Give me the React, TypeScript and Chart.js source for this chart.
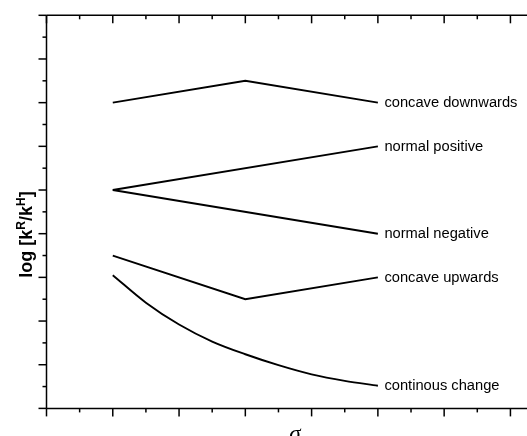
import React, { useEffect, useRef } from "react";
import { Chart, registerables } from "chart.js";

Chart.register(...registerables);

// ---- data ----
const xKnots = [1, 3, 5];
const xEnds = [1, 5];
const concaveDown = [7, 7.5, 7];
const normalPos = [5, 6];
const normalNeg = [5, 4];
const concaveUp = [3.5, 2.5, 3];
const xCurve = [1, 1.5, 2, 2.5, 3, 3.5, 4, 4.5, 5];
const continuous = [3.05, 2.42, 1.92, 1.53, 1.24, 0.99, 0.78, 0.63, 0.52];
const seriesLabels = [
  "concave downwards",
  "normal positive",
  "normal negative",
  "concave upwards",
  "continous change",
];
const xRange = [0, 7.25];
const yRange = [0, 9];
const tickStep = 0.5;
const xTitle = "σ";
const yTitleParts = [
  { t: "log [k", sup: false },
  { t: "R", sup: true },
  { t: "/k", sup: false },
  { t: "H", sup: true },
  { t: "]", sup: false },
];

const zip = (xs: number[], ys: number[]) => xs.map((x, i) => ({ x, y: ys[i] }));

const framePlugin = {
  id: "frame",
  afterDraw(chart: any) {
    const ctx = chart.ctx as CanvasRenderingContext2D;
    const { left, right, top, bottom } = chart.chartArea;
    const xs = chart.scales.x;
    const ys = chart.scales.y;
    ctx.save();
    ctx.strokeStyle = "#000";
    ctx.fillStyle = "#000";
    ctx.lineWidth = 1.5;
    ctx.lineCap = "butt";
    const line = (a: number, b: number, c: number, d: number) => {
      ctx.beginPath();
      ctx.moveTo(a, b);
      ctx.lineTo(c, d);
      ctx.stroke();
    };
    line(left, top, right, top);
    line(left, bottom, right, bottom);
    line(left, top, left, bottom);
    // x ticks
    for (let v = xs.min; v <= xs.max + 1e-9; v += tickStep) {
      const px = xs.getPixelForValue(v);
      const major = Math.abs(v - Math.round(v)) < 1e-6;
      const len = major ? 8 : 4;
      line(px, bottom, px, bottom + len);
      line(px, top, px, top + len);
    }
    // y ticks
    for (let v = ys.min; v <= ys.max + 1e-9; v += tickStep) {
      const py = ys.getPixelForValue(v);
      const major = Math.abs(v - Math.round(v)) < 1e-6;
      const len = major ? 8 : 4;
      line(left - len, py, left, py);
    }
    // series labels
    ctx.font = "14.7px 'Liberation Sans', Arial, sans-serif";
    ctx.textBaseline = "middle";
    ctx.textAlign = "left";
    chart.data.datasets.forEach((ds: any, i: number) => {
      const meta = chart.getDatasetMeta(i);
      const pt = meta.data[meta.data.length - 1];
      ctx.fillText(seriesLabels[i], pt.x + 6.5, pt.y + 0.5);
    });
    // x title
    ctx.font = "italic 23px 'Liberation Serif', serif";
    ctx.textAlign = "center";
    ctx.textBaseline = "alphabetic";
    ctx.fillText(xTitle, 295, 441);
    // y title (rotated, with superscripts)
    const mainFont = "bold 18px 'Liberation Sans', Arial, sans-serif";
    const supFont = "bold 12px 'Liberation Sans', Arial, sans-serif";
    let total = 0;
    const widths = yTitleParts.map((p) => {
      ctx.font = p.sup ? supFont : mainFont;
      const w = ctx.measureText(p.t).width;
      total += w;
      return w;
    });
    ctx.translate(31.5, 234.5);
    ctx.rotate(-Math.PI / 2);
    ctx.textAlign = "left";
    let cx = -total / 2;
    yTitleParts.forEach((p, i) => {
      ctx.font = p.sup ? supFont : mainFont;
      ctx.fillText(p.t, cx, p.sup ? -7 : 0);
      cx += widths[i];
    });
    ctx.restore();
  },
};

export default function App() {
  const ref = useRef<HTMLCanvasElement | null>(null);
  useEffect(() => {
    if (!ref.current) return;
    const common = {
      borderColor: "#000",
      borderWidth: 1.9,
      pointRadius: 0,
      showLine: true,
      fill: false,
    };
    const chart = new Chart(ref.current, {
      type: "scatter",
      data: {
        datasets: [
          { ...common, data: zip(xKnots, concaveDown), tension: 0 },
          { ...common, data: zip(xEnds, normalPos), tension: 0 },
          { ...common, data: zip(xEnds, normalNeg), tension: 0 },
          { ...common, data: zip(xKnots, concaveUp), tension: 0 },
          {
            ...common,
            data: zip(xCurve, continuous),
            tension: 0.4,
            cubicInterpolationMode: "monotone",
          },
        ] as any,
      },
      options: {
        animation: false,
        responsive: true,
        maintainAspectRatio: false,
        layout: { padding: { left: 46.5, top: 15.3, right: 0, bottom: 27.6 } },
        plugins: { legend: { display: false }, tooltip: { enabled: false } },
        scales: {
          x: { type: "linear", min: xRange[0], max: xRange[1], display: false },
          y: { type: "linear", min: yRange[0], max: yRange[1], display: false },
        },
      },
      plugins: [framePlugin],
    });
    return () => chart.destroy();
  }, []);
  return (
    <div style={{ position: "fixed", left: 0, top: 0, width: 527, height: 436, background: "#fff" }}>
      <canvas ref={ref} />
    </div>
  );
}
